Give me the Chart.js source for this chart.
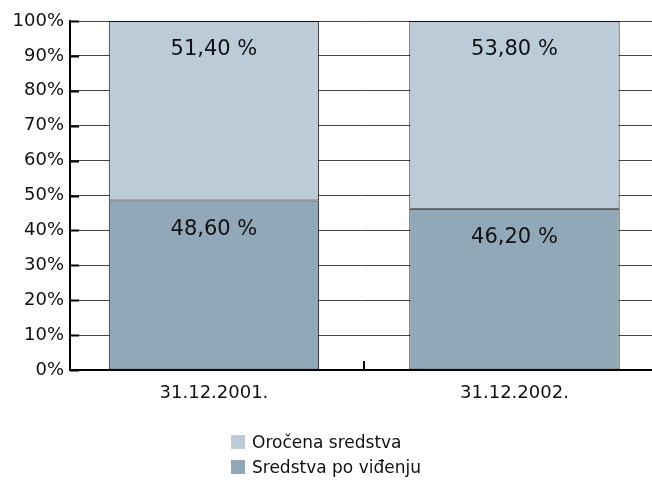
<!DOCTYPE html>
<html><head><meta charset="utf-8">
<script src="https://cdn.jsdelivr.net/npm/chart.js@4.4.1/dist/chart.umd.min.js"></script>
<style>
html,body{margin:0;padding:0;background:#fff;overflow:hidden}
#wrap{position:relative;width:652px;height:492px}
#legend{position:absolute;left:231px;top:429px;font-family:"DejaVu Sans";font-size:17px;color:#111}
.item{display:flex;align-items:center;height:25px;white-space:nowrap}
.box{width:14px;height:14px;margin-right:7px;flex:none}
</style></head><body>
<div id="wrap"><canvas id="c" width="652" height="492"></canvas><div id="legend"></div></div>
<script>
const categories = ['31.12.2001.', '31.12.2002.'];
const seriesNames = ['Sredstva po viđenju', 'Oročena sredstva'];
const sredstvaPoVidjenju = [48.60, 46.20];
const orocenaSredstva = [51.40, 53.80];
const yTickStep = 10;
const colors = ['#91a8b8', '#bccbd8'];

Chart.defaults.font.family = '"DejaVu Sans"';
Chart.defaults.color = '#111';

const toPoints = arr => arr.map((v, i) => ({x: i, y: v}));
const fmt = v => v.toFixed(2).replace('.', ',') + ' %';

const extras = {
  id: 'extras',
  afterDatasetsDraw(chart) {
    const ctx = chart.ctx;
    const xs = chart.scales.x, ys = chart.scales.y;
    const area = chart.chartArea;
    ctx.save();
    ctx.strokeStyle = '#000';
    ctx.lineWidth = 2;
    ys.ticks.forEach(t => {
      const py = Math.round(ys.getPixelForValue(t.value)) + 0.5;
      ctx.beginPath();
      ctx.moveTo(area.left, py);
      ctx.lineTo(area.left + 9, py);
      ctx.stroke();
    });
    for (let i = 0; i < categories.length - 1; i++) {
      const px = Math.round(xs.getPixelForValue(i + 0.5));
      ctx.beginPath();
      ctx.moveTo(px, area.bottom);
      ctx.lineTo(px, area.bottom - 9);
      ctx.stroke();
    }
    ctx.font = '21px "DejaVu Sans"';
    ctx.fillStyle = '#111';
    ctx.textAlign = 'center';
    ctx.textBaseline = 'middle';
    chart.data.datasets.forEach((ds, di) => {
      const meta = chart.getDatasetMeta(di);
      meta.data.forEach((el, i) => {
        ctx.fillText(fmt(ds.data[i].y), el.x, el.y + 29);
      });
    });
    ctx.restore();
  }
};

const chart = new Chart(document.getElementById('c'), {
  type: 'bar',
  data: {
    datasets: [
      {label: seriesNames[0], data: toPoints(sredstvaPoVidjenju), backgroundColor: colors[0]},
      {label: seriesNames[1], data: toPoints(orocenaSredstva), backgroundColor: colors[1]}
    ]
  },
  options: {
    responsive: false,
    animation: false,
    devicePixelRatio: 1,
    layout: {padding: {top: 21, right: 0, left: 0, bottom: 0}},
    datasets: {bar: {borderColor: '#111', borderWidth: 1, borderSkipped: false, categoryPercentage: 1, barPercentage: 0.7}},
    plugins: {legend: {display: false}, tooltip: {enabled: false}},
    scales: {
      x: {
        type: 'linear', stacked: true, offset: false,
        min: -0.479, max: 1.4576,
        afterBuildTicks: s => { s.ticks = categories.map((c, i) => ({value: i})); },
        afterFit: s => { s.height = 122; },
        ticks: {callback: v => categories[v], font: {size: 18}, padding: 5, maxRotation: 0, autoSkip: false},
        grid: {display: false},
        border: {display: true, color: '#000', width: 2}
      },
      y: {
        stacked: true, min: 0, max: 100,
        afterFit: s => { s.width = 70; },
        ticks: {stepSize: yTickStep, callback: v => v + '%', font: {size: 18}, padding: 6},
        grid: {color: '#444', lineWidth: 1, drawTicks: false},
        border: {display: true, color: '#000', width: 2}
      }
    }
  },
  plugins: [extras]
});

const legend = document.getElementById('legend');
chart.data.datasets.slice().reverse().forEach(ds => {
  const item = document.createElement('div');
  item.className = 'item';
  const box = document.createElement('span');
  box.className = 'box';
  box.style.background = ds.backgroundColor;
  const txt = document.createElement('span');
  txt.textContent = ds.label;
  item.appendChild(box);
  item.appendChild(txt);
  legend.appendChild(item);
});
</script>
</body></html>
